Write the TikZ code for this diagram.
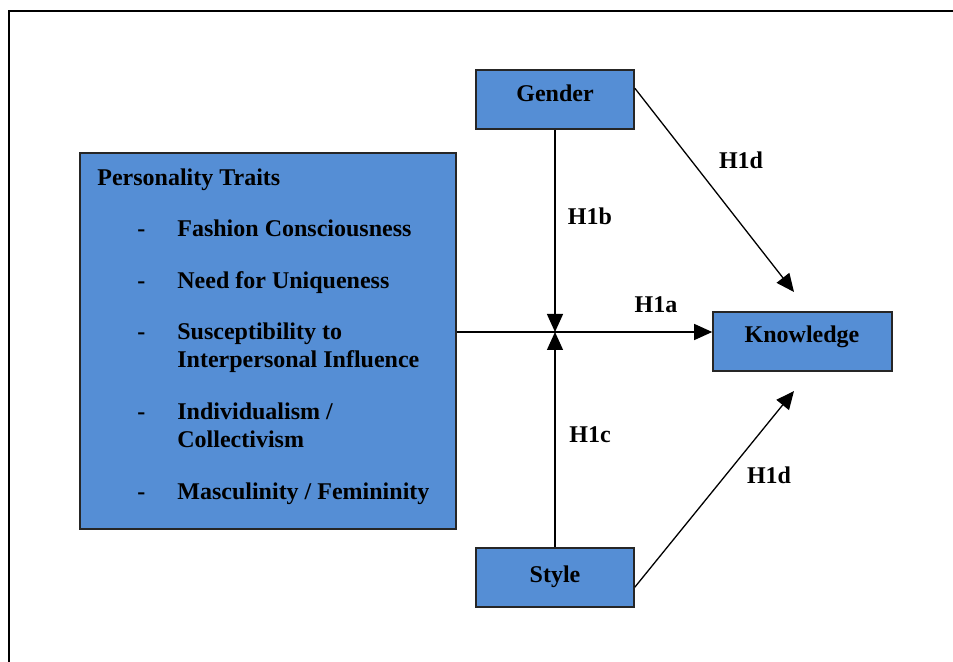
\documentclass[tikz,border=0pt]{standalone}
\usepackage{fontspec}
\setmainfont{Liberation Serif}
\usetikzlibrary{arrows.meta,calc}
\definecolor{boxblue}{RGB}{85,142,213}
\begin{document}
\begin{tikzpicture}[x=0.5pt,y=-0.5pt,
  every node/.style={font=\fontsize{12}{14}\selectfont\bfseries},
  boxnode/.style={draw=black!85,line width=0.8pt,fill=boxblue,inner sep=0pt},
  txt/.style={anchor=base west,inner sep=0pt},
  ctxt/.style={anchor=base,inner sep=0pt},
  conn/.style={line width=0.65pt,-{Triangle[length=9pt,width=8pt]}},
  plain/.style={line width=0.65pt}]
\useasboundingbox (0,0) rectangle (953,662);
% frame (top and left only)
\draw[line width=1.2pt] (9,662) -- (9,11) -- (953,11);
% boxes
\node[boxnode,minimum width=188pt,minimum height=188pt] (pt) at (268,341) {};
\node[boxnode,minimum width=79pt,minimum height=29.5pt] (gender) at (555,99.5) {};
\node[boxnode,minimum width=79pt,minimum height=29.5pt] (style) at (555,577.5) {};
\node[boxnode,minimum width=89.5pt,minimum height=29.5pt] (kn) at (802.5,341.5) {};
% box texts
\node[ctxt] (tg) at (555,102) {Gender};
\node[ctxt] (ts) at (555,582) {Style};
\node[ctxt] (tk) at (802,343) {Knowledge};
\node[txt] (t0) at (97,186) {Personality Traits};
\node[txt] (d1) at (137,237) {-};
\node[txt] (t1) at (177,237) {Fashion Consciousness};
\node[txt] (d2) at (137,289) {-};
\node[txt] (t2) at (177,289) {Need for Uniqueness};
\node[txt] (d3) at (137,340) {-};
\node[txt] (t3) at (177,340) {Susceptibility to};
\node[txt] (t3b) at (177,368) {Interpersonal Influence};
\node[txt] (d4) at (137,420) {-};
\node[txt] (t4) at (177,420) {Individualism /};
\node[txt] (t4b) at (177,448) {Collectivism};
\node[txt] (d5) at (137,500) {-};
\node[txt] (t5) at (177,500) {Masculinity / Femininity};
% connectors
\coordinate (cross) at (555,332);
\coordinate (k1) at (794,292);
\coordinate (k2) at (794,391);
\draw[conn] (pt.east |- cross) -- (kn.west |- cross);
\draw[conn] (gender.south) -- (cross);
\draw[conn] (style.north) -- (cross);
\draw[conn] ($(gender.north east)+(0,19)$) -- (k1);
\draw[conn] ($(style.north east)+(0,40)$) -- (k2);
% labels
\node[ctxt] (l1) at (741,169) {H1d};
\node[ctxt] (l2) at (590,225) {H1b};
\node[ctxt] (l3) at (656,313) {H1a};
\node[ctxt] (l4) at (590,443) {H1c};
\node[ctxt] (l5) at (769,483) {H1d};
\end{tikzpicture}
\end{document}
